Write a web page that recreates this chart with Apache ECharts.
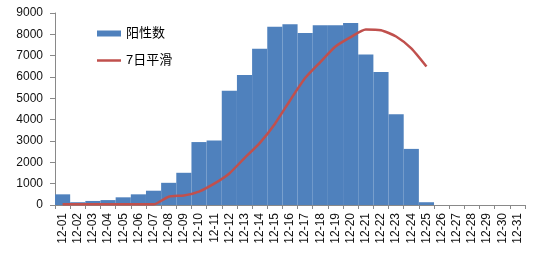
<!DOCTYPE html>
<html>
<head>
<meta charset="utf-8">
<script src="https://cdn.jsdelivr.net/npm/echarts@6/dist/echarts.min.js"></script>
<style>html,body{margin:0;padding:0;background:#fff;}#c{width:554px;height:255px;}</style>
</head>
<body>
<div id="c"></div>
<script>
var categories = ['12-01','12-02','12-03','12-04','12-05','12-06','12-07','12-08','12-09','12-10','12-11','12-12','12-13','12-14','12-15','12-16','12-17','12-18','12-19','12-20','12-21','12-22','12-23','12-24','12-25','12-26','12-27','12-28','12-29','12-30','12-31'];
var positives = [500,130,190,230,360,500,670,1040,1510,2950,3020,5360,6090,7330,8360,8470,8060,8420,8420,8530,7060,6230,4250,2630,130,0,0,0,0,0,0];
var smooth7 = [30,30,30,30,30,30,30,390,450,630,1000,1480,2200,2900,3800,4900,5950,6700,7430,7870,8230,8190,7900,7340,6490,null,null,null,null,null,null];
var yTicks = {min: 0, max: 9000, interval: 1000};
var names = ['阳性数', '7日平滑'];

var chart = echarts.init(document.getElementById('c'), null, {renderer: 'canvas'});
var font = '"Liberation Sans", Arial, "Noto Sans CJK SC", sans-serif';
chart.setOption({
  animation: false,
  backgroundColor: '#fff',
  grid: {left: 55, right: 29, top: 13, bottom: 50, containLabel: false},
  legend: {
    orient: 'vertical', left: 92, top: 22, padding: 5, itemWidth: 24, itemHeight: 6, itemGap: 14,
    textStyle: {fontSize: 13, color: '#000', fontFamily: font},
    data: [{name: names[0], icon: 'rect'}, {name: names[1], icon: 'path://M0,0H24V2.5H0Z'}]
  },
  xAxis: {
    type: 'category', data: categories, boundaryGap: true,
    axisLine: {lineStyle: {color: '#898989', width: 1}},
    axisTick: {show: true, length: 4, lineStyle: {color: '#898989'}, alignWithLabel: false},
    axisLabel: {rotate: 90, interval: 0, fontSize: 12, color: '#111', margin: 8, fontFamily: font},
    splitLine: {show: false}
  },
  yAxis: {
    type: 'value', min: yTicks.min, max: yTicks.max, interval: yTicks.interval,
    axisLine: {show: true, lineStyle: {color: '#898989', width: 1}},
    axisTick: {show: true, length: 5, lineStyle: {color: '#898989'}},
    axisLabel: {fontSize: 12, color: '#111', margin: 12, fontFamily: font,
      formatter: function (v) { return String(v); }},
    splitLine: {show: false}
  },
  series: [
    {name: names[0], type: 'bar', data: positives, barCategoryGap: '0%', barGap: '0%',
     itemStyle: {color: '#4F81BD'}},
    {name: names[1], type: 'line', data: smooth7, symbol: 'none', showSymbol: false, smooth: 0.2,
     lineStyle: {color: '#C0504D', width: 2.5}, itemStyle: {color: '#C0504D'}}
  ]
});
</script>
</body>
</html>
